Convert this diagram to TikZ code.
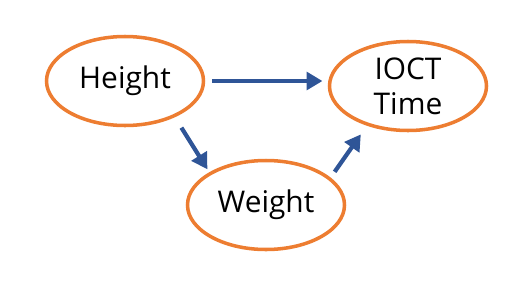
\documentclass[tikz,border=0pt]{standalone}
\usepackage{fontspec}
\setmainfont{Open Sans}
\usetikzlibrary{positioning, arrows.meta, shapes.geometric}
\definecolor{bubbleorange}{HTML}{ED7D31}
\definecolor{linkblue}{HTML}{2F5597}

\begin{document}
\begin{tikzpicture}[
    bubble/.style={ellipse, draw=bubbleorange, line width=2pt, minimum width=3.14cm, minimum height=1.78cm, inner sep=0pt, align=center, font=\fontsize{17}{20}\selectfont},
    link/.style={-{Triangle[length=9pt, width=10pt]}, line width=2.4pt, draw=linkblue, shorten <=4pt, shorten >=4pt}
]
    \useasboundingbox (0,0) rectangle (10.6,-5.74);

    % Nodes
    \node[bubble] (height) at (2.5,-1.62) {Height};
    \node[bubble] (ioct) at (8.16,-1.72) {IOCT\\Time};
    \node[bubble] (weight) at (5.32,-4.10) {Weight};

    % Edges
    \draw[link, shorten >=3pt] (height.east) -- (height.east -| ioct.west);
    \draw[link, shorten <=7pt, shorten >=2pt] (height.-36) -- (weight.150);
    \draw[link, shorten >=6pt] (weight.23) -- (ioct.224);
\end{tikzpicture}
\end{document}
